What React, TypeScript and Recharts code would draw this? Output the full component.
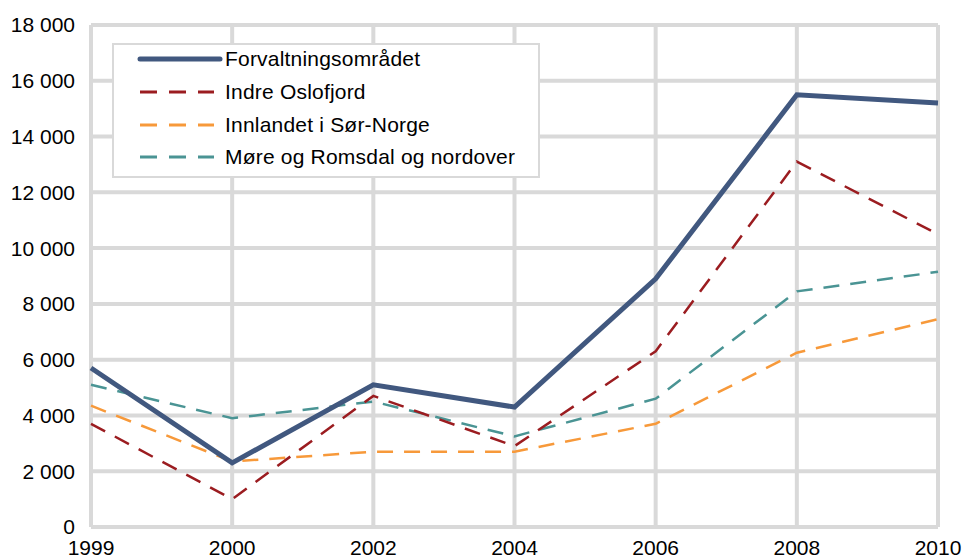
import React from 'react';
import {
  LineChart,
  Line,
  XAxis,
  YAxis,
  CartesianGrid,
} from 'recharts';

const years = ['1999', '2000', '2002', '2004', '2006', '2008', '2010'];

const forvaltning = [5700, 2300, 5100, 4300, 8900, 15500, 15200];
const indreOslofjord = [3700, 1000, 4700, 2900, 6300, 13100, 10500];
const innlandet = [4350, 2350, 2700, 2700, 3700, 6250, 7450];
const moreRomsdal = [5100, 3900, 4500, 3250, 4600, 8450, 9150];

const yTicks = [0, 2000, 4000, 6000, 8000, 10000, 12000, 14000, 16000, 18000];

const SERIES = [
  { key: 'forvaltning', name: 'Forvaltningsområdet', color: '#41587f', width: 5, dash: undefined },
  { key: 'indre', name: 'Indre Oslofjord', color: '#9b1c20', width: 2.5, dash: '16 11' },
  { key: 'innlandet', name: 'Innlandet i Sør-Norge', color: '#f7993a', width: 2.5, dash: '16 11' },
  { key: 'more', name: 'Møre og Romsdal og nordover', color: '#4a9494', width: 2.5, dash: '16 11' },
];

const data = years.map((year, i) => ({
  year,
  forvaltning: forvaltning[i],
  indre: indreOslofjord[i],
  innlandet: innlandet[i],
  more: moreRomsdal[i],
}));

const FONT = '"Liberation Sans", Arial, sans-serif';

// thousands with a space, like the Norwegian source
const formatTick = (v: number) =>
  v >= 1000 ? `${Math.floor(v / 1000)} ${String(v % 1000).padStart(3, '0')}` : String(v);

function LegendBox() {
  return (
    <div
      style={{
        position: 'absolute',
        left: 112,
        top: 43,
        width: 424,
        height: 131,
        border: '2px solid #d9d9d9',
        background: '#fff',
        fontFamily: FONT,
        fontSize: 21,
        letterSpacing: 0.2,
        color: '#000',
      }}
    >
      {SERIES.map(s => (
        <div
          key={s.key}
          style={{ display: 'flex', alignItems: 'center', height: 32.7, transform: 'translateY(-2px)' }}
        >
          <svg width={111} height={10} style={{ flex: 'none' }}>
            <line
              x1={26}
              x2={s.dash ? 100 : 106}
              y1={5}
              y2={5}
              stroke={s.color}
              strokeWidth={s.dash ? 3 : 5}
              strokeLinecap={s.dash ? 'butt' : 'round'}
              strokeDasharray={s.dash ? '17 12' : undefined}
            />
          </svg>
          <span>{s.name}</span>
        </div>
      ))}
    </div>
  );
}

export default function App() {
  return (
    <div style={{ position: 'absolute', left: 0, top: 0, width: 962, height: 559, background: '#fff' }}>
      <LineChart
        width={962}
        height={559}
        data={data}
        margin={{ top: 25, right: 24, left: 11, bottom: 0 }}
      >
        <CartesianGrid stroke="#d9d9d9" strokeWidth={4} />
        <XAxis
          dataKey="year"
          axisLine={false}
          tickLine={false}
          height={32}
          interval={0}
          tick={{ fill: '#000', fontSize: 21, fontFamily: FONT }}
          tickMargin={7}
        />
        <YAxis
          domain={[0, 18000]}
          ticks={yTicks}
          axisLine={false}
          tickLine={false}
          width={80}
          interval={0}
          tickFormatter={formatTick}
          tick={{ fill: '#000', fontSize: 21, fontFamily: FONT }}
          tickMargin={10}
        />
        {SERIES.slice().reverse().map(s => (
          <Line
            key={s.key}
            type="linear"
            dataKey={s.key}
            name={s.name}
            stroke={s.color}
            strokeWidth={s.width}
            strokeDasharray={s.dash}
            dot={false}
            activeDot={false}
            isAnimationActive={false}
          />
        ))}
      </LineChart>
      <LegendBox />
    </div>
  );
}
